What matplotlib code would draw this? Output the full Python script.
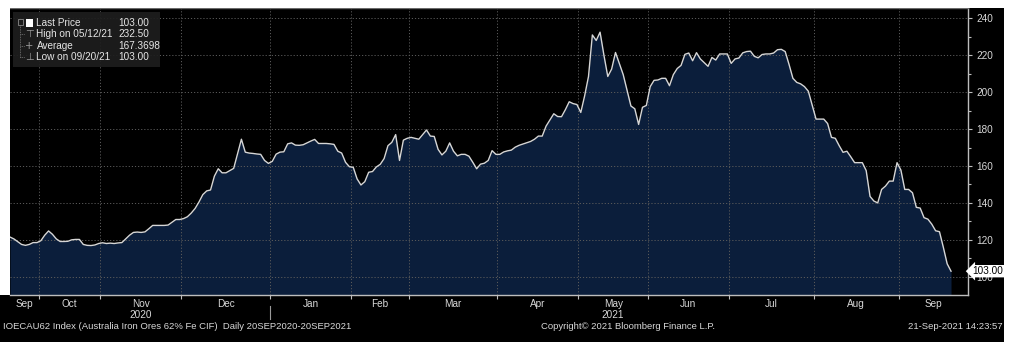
import numpy as np
import matplotlib.pyplot as plt
from matplotlib.patches import Rectangle
from matplotlib.transforms import blended_transform_factory

plt.rcParams['font.family'] = ['Liberation Sans', 'DejaVu Sans']

# ---- data: daily closes, grouped by month (trading sessions) ----
month_names = ['Sep', 'Oct', 'Nov', 'Dec', 'Jan', 'Feb', 'Mar', 'Apr', 'May', 'Jun', 'Jul', 'Aug', 'Sep']
year_label_months = [2, 8]          # index of month carrying the year label
year_labels = ['2020', '2021']

sep20 = [121.5, 120.5, 119.0, 117.5, 117.0, 117.5, 118.5, 118.5]
oct20 = [119.5, 122.5, 124.8, 123.0, 120.5, 119.1, 119.1, 119.2, 120.0, 120.2, 120.2, 117.5,
         117.0, 116.9, 117.2, 118.0]
nov20 = [118.4, 118.0, 118.2, 118.0, 118.3, 118.5, 120.5, 122.5, 124.0, 124.2, 124.0, 124.3,
         126.0, 127.8, 127.8, 127.8, 127.8, 128.0, 129.5, 131.0, 131.0]
dec20 = [131.5, 132.5, 134.5, 137.0, 140.5, 144.5, 146.5, 147.0, 154.5, 158.5, 156.3, 156.3,
         157.5, 158.7, 166.5, 174.5, 167.5, 167.0, 166.8, 166.5, 166.3, 163.0, 161.4]
jan21 = [162.5, 166.4, 167.5, 167.7, 172.0, 172.5, 171.3, 171.2, 171.5, 172.5, 173.5, 174.4,
         172.2, 172.2, 172.2, 172.0, 171.7, 168.0, 167.0, 162.0, 159.6]
feb21 = [159.3, 153.0, 149.7, 151.5, 156.6, 157.0, 159.5, 160.9, 164.0, 171.0, 172.8, 177.0,
         163.0, 174.0, 175.0]
mar21 = [175.5, 175.0, 174.5, 177.0, 179.5, 176.2, 176.0, 169.0, 166.0, 168.0, 172.5, 168.0,
         165.5, 166.3, 166.3, 165.3, 162.0, 158.5, 161.0, 161.5, 163.0, 168.3, 166.3]
apr21 = [166.3, 167.6, 168.2, 168.6, 170.2, 171.2, 171.9, 172.6, 173.3, 174.5, 176.2, 176.2,
         181.6, 185.0, 188.3, 186.8, 186.7, 190.5, 194.8, 193.8, 193.3]
may21 = [189.0, 198.0, 208.5, 231.0, 228.0, 232.5, 220.0, 208.5, 212.5, 221.5, 215.5, 209.5,
         201.0, 192.5, 191.0, 182.5, 191.8, 192.8]
jun21 = [203.0, 206.4, 206.6, 207.5, 207.5, 203.5, 209.5, 212.8, 214.5, 220.5, 221.2, 217.0,
         221.4, 218.0, 216.0, 214.0, 218.8, 217.4, 220.7, 220.7, 220.7]
jul21 = [215.6, 218.0, 218.5, 221.3, 222.0, 222.2, 219.4, 218.6, 220.4, 220.7, 220.7, 221.2,
         223.0, 223.2, 222.0, 215.0, 207.5, 205.3, 204.5, 203.0, 200.5, 193.0]
aug21 = [185.4, 185.4, 185.4, 183.0, 175.5, 175.0, 171.0, 167.4, 168.0, 165.0, 161.8, 161.8,
         161.8, 157.5, 143.5, 141.0, 140.0, 147.3, 149.1, 151.8, 151.8, 161.8]
sep21 = [157.8, 147.3, 147.3, 145.5, 137.6, 137.2, 132.0, 131.2, 128.5, 124.9, 124.4, 116.0,
         107.0, 103.0]

legend_labels = ['Last Price', 'High on 05/12/21', 'Average', 'Low on 09/20/21']
legend_values = ['103.00', '232.50', '167.3698', '103.00']
last_label = '103.00'
y_ticks = [100, 120, 140, 160, 180, 200, 220, 240]

# ---- assemble ----
month_values = [sep20, oct20, nov20, dec20, jan21, feb21, mar21, apr21, may21,
                jun21, jul21, aug21, sep21]
prices = np.concatenate(month_values)
counts = [len(m) for m in month_values]
starts = np.cumsum([0] + counts[:-1])
x = np.arange(len(prices))
n = len(prices)

W, H = 1024, 342
fig = plt.figure(figsize=(W / 100, H / 100), dpi=100, facecolor='black')


def fx(px):
    return px / W


def fy(py):
    return 1 - py / H


TXT = '#d8d8d8'
FS = 7.2
FS_FOOT = 6.8

# white screenshot margins
for (x0, y0, x1, y1) in [(0, 0, W, 8), (1004, 0, W, H), (0, 8, 10, 295)]:
    fig.patches.append(Rectangle((fx(x0), fy(y1)), fx(x1) - fx(x0), fy(y0) - fy(y1),
                                 transform=fig.transFigure, facecolor='white',
                                 edgecolor='none', zorder=0))

ax = fig.add_axes([fx(10), fy(295), fx(968) - fx(10), fy(8) - fy(295)])
ax.set_facecolor('black')
ymin, ymax = 90.1, 245.6
ax.set_ylim(ymin, ymax)
xmax = n + 3.4
ax.set_xlim(0, xmax)

ax.fill_between(x, prices, ymin, color='#0b1e3b', zorder=1, linewidth=0)
ax.plot(x, prices, color='#d6d6d6', lw=1.0, zorder=3)

# grid
boundaries = starts[1:] - 0.6
grid_kw = dict(color='#5a5a5a', lw=0.7, ls=(0, (1.2, 2)), zorder=2)
for b in boundaries:
    ax.axvline(b, **grid_kw)
for yv in y_ticks:
    ax.axhline(yv, **grid_kw)

# spines
ax.spines['left'].set_visible(False)
for s in ['right', 'bottom', 'top']:
    ax.spines[s].set_color('#bdbdbd')
    ax.spines[s].set_linewidth(1.0)
ax.spines['top'].set_color('#6a6a6a')

# y axis on right
ax.yaxis.tick_right()
ax.set_yticks(y_ticks)
ax.set_yticklabels([str(v) for v in y_ticks])
ax.set_yticks(np.arange(110, 240, 20), minor=True)
ax.tick_params(axis='y', which='major', colors='#bdbdbd', labelcolor=TXT,
               labelsize=FS, length=3, width=0.8, pad=3)
ax.tick_params(axis='y', which='minor', colors='#bdbdbd', length=2, width=0.8)

# x axis: month boundaries as ticks, labels centred between
ax.set_xticks(boundaries)
ax.set_xticklabels([])
ax.tick_params(axis='x', which='major', colors='#bdbdbd', length=3, width=0.8)
edges = np.concatenate([[0], boundaries, [xmax]])
centers = (edges[:-1] + edges[1:]) / 2
trans = blended_transform_factory(ax.transData, ax.transAxes)
for c, name in zip(centers, month_names):
    ax.text(c, -0.015, name, transform=trans, ha='center', va='top', fontsize=FS,
            color=TXT, clip_on=False)
for mi, yl in zip(year_label_months, year_labels):
    ax.text(centers[mi], -0.052, yl, transform=trans, ha='center', va='top',
            fontsize=FS, color=TXT, clip_on=False)
jan_b = boundaries[month_names.index('Jan') - 1]
ax.plot([jan_b, jan_b], [-0.04, -0.085], transform=trans, color='#9a9a9a', lw=0.8,
        clip_on=False)

# last price box
trans_y = blended_transform_factory(ax.transAxes, ax.transData)
ax.text(1.0045, prices[-1], last_label, transform=trans_y, ha='left', va='center',
        fontsize=FS, color='black', zorder=10, clip_on=False,
        bbox=dict(boxstyle='larrow,pad=0.12', facecolor='white', edgecolor='none'))

# footer texts
fig.text(fx(3), fy(326.5), 'IOECAU62 Index (Australia Iron Ores 62% Fe CIF)  Daily 20SEP2020-20SEP2021',
         ha='left', va='center', fontsize=FS_FOOT, color=TXT)
fig.text(fx(628), fy(326.5), 'Copyright\u00a9 2021 Bloomberg Finance L.P.', ha='center',
         va='center', fontsize=FS_FOOT, color=TXT)
fig.text(fx(1003), fy(326.5), '21-Sep-2021 14:23:57', ha='right', va='center',
         fontsize=FS_FOOT, color=TXT)

# legend box
fig.patches.append(Rectangle((fx(13), fy(67)), fx(160) - fx(13), fy(12) - fy(67),
                             transform=fig.transFigure, facecolor='#1e1e1e', alpha=0.92,
                             edgecolor='none', zorder=5))
row_y = [23, 34.3, 45.7, 57.3]
for lab, val, ry in zip(legend_labels, legend_values, row_y):
    fig.text(fx(36.5), fy(ry), lab, ha='left', va='center', fontsize=FS, color='#e6e6e6',
             zorder=6)
    fig.text(fx(118), fy(ry), val, ha='left', va='center', fontsize=FS, color='#e6e6e6',
             zorder=6)
# tree icons
fig.patches.append(Rectangle((fx(17.5), fy(24.5)), fx(5), fy(19.5) - fy(24.5),
                             transform=fig.transFigure, facecolor='none', edgecolor='#8a8a8a',
                             lw=0.6, zorder=6))
fig.patches.append(Rectangle((fx(26), fy(26.5)), fx(7), fy(18.5) - fy(26.5),
                             transform=fig.transFigure, facecolor='white', edgecolor='none',
                             zorder=6))
fig.lines.append(plt.Line2D([fx(20), fx(20)], [fy(25), fy(58)], transform=fig.transFigure,
                            color='#7a7a7a', lw=0.6, ls=(0, (1, 1)), zorder=6))
for ry in row_y[1:]:
    fig.lines.append(plt.Line2D([fx(20), fx(25)], [fy(ry), fy(ry)], transform=fig.transFigure,
                                color='#7a7a7a', lw=0.6, ls=(0, (1, 1)), zorder=6))
for sym, ry in zip(['\u22a4', '+', '\u22a5'], row_y[1:]):
    fig.text(fx(29.5), fy(ry), sym, ha='center', va='center', fontsize=FS,
             family=['DejaVu Sans'], color='#9a9a9a', zorder=6)

fig.savefig('out.png', dpi=100, facecolor=fig.get_facecolor())
